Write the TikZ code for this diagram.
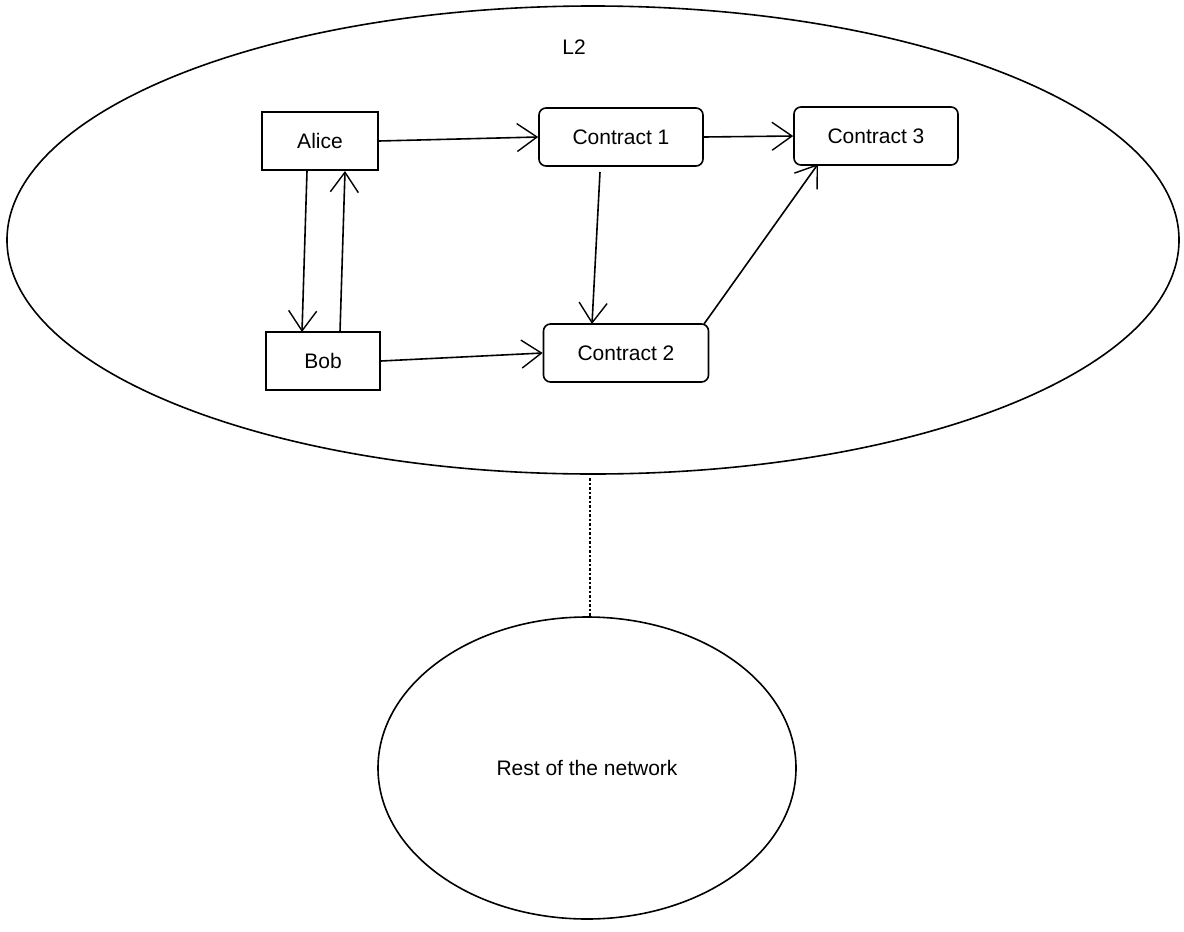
\documentclass[tikz,border=0pt]{standalone}
\usepackage{fontspec}
\setmainfont{Liberation Sans}
\usetikzlibrary{arrows.meta,shapes.geometric}
\begin{document}
\begin{tikzpicture}[x=1pt,y=-1pt,line width=1.6pt,
  box/.style={draw,minimum width=#1,minimum height=58pt,inner sep=0pt,font=\fontsize{21}{25}\selectfont},
  rbox/.style={box=#1,rounded corners=7pt},
  arr/.style={-{Straight Barb[length=20pt,width=28pt,line width=1.4pt]}}]
\useasboundingbox (0,0) rectangle (1184,932);
\node[draw,ellipse,minimum width=1172pt,minimum height=468pt] (l2) at (593,240) {};
\node[draw,ellipse,minimum width=418pt,minimum height=302pt,font=\fontsize{21}{25}\selectfont] (rest) at (587,768) {Rest of the network};
\node[font=\fontsize{21}{25}\selectfont] (l2t) at (574,47) {L2};
\node[box=116pt] (alice) at (320,141) {Alice};
\node[box=114pt] (bob) at (323,361) {Bob};
\node[rbox=164pt] (c1) at (621,137) {Contract 1};
\node[rbox=164pt] (c3) at (876,136) {Contract 3};
\node[rbox=165pt] (c2) at (626,353) {Contract 2};
\coordinate (d1) at (590,478);
\draw[dotted,line width=2.5pt] (d1) -- (rest.north -| d1);
\draw[arr] (alice.east) -- (c1.west);
\draw[arr] (c1.east) -- (c3.west);
\coordinate (s1) at (600,172);
\coordinate (e1) at (592,324);
\draw[arr] (s1) -- (e1);
\coordinate (s2) at (704,324);
\coordinate (e2) at (818,164);
\draw[arr] (s2) -- (e2);
\draw[arr] (bob.east) -- (c2.west);
\coordinate (a1) at (307,171);
\coordinate (b1) at (302,332);
\coordinate (b2) at (340,332);
\coordinate (a2) at (345,171);
\draw[arr] (a1) -- (b1);
\draw[arr] (b2) -- (a2);
\end{tikzpicture}
\end{document}
